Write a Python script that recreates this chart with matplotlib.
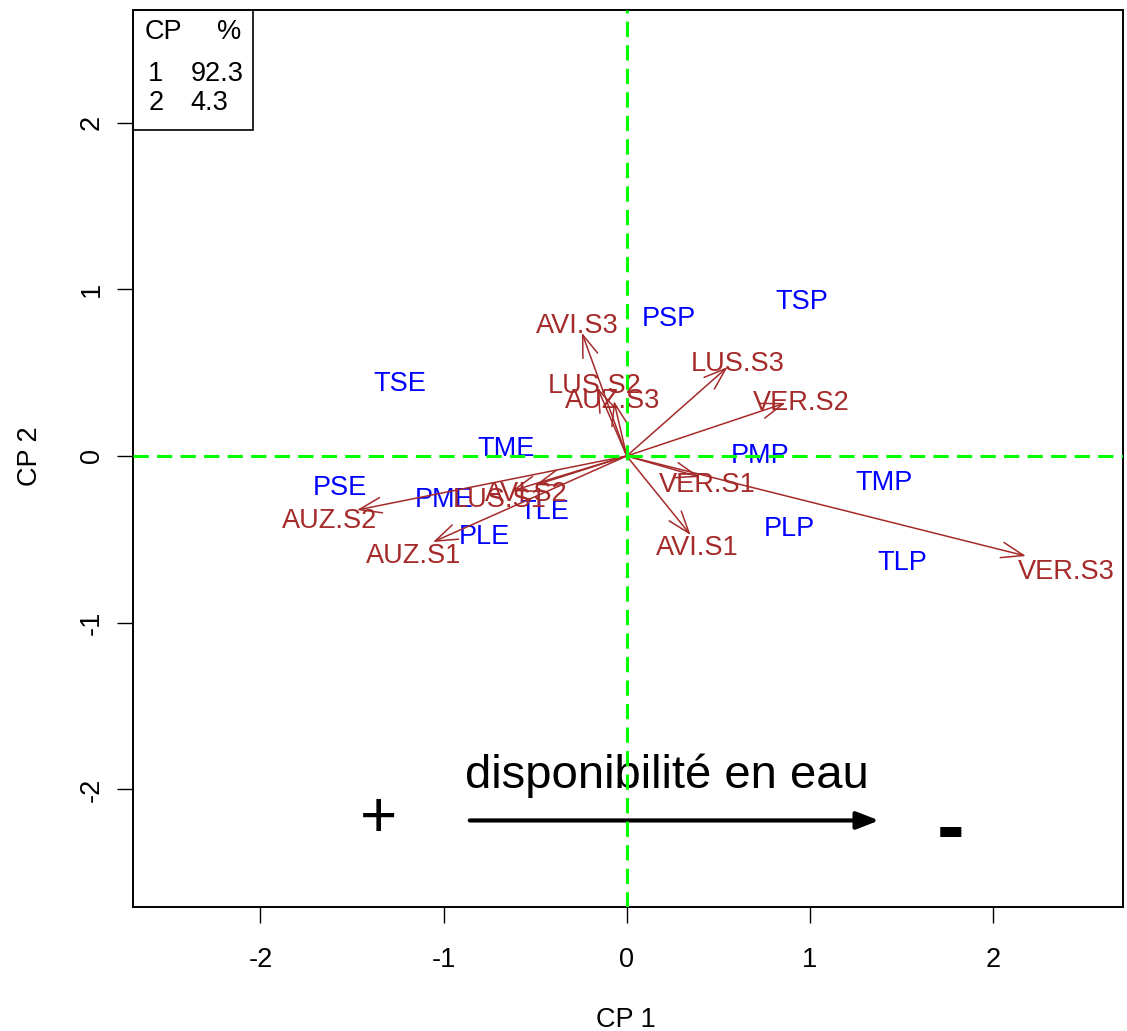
import numpy as np
import matplotlib
matplotlib.use("Agg")
import matplotlib.pyplot as plt
from matplotlib.patches import Rectangle

plt.rcParams['font.family'] = ['Liberation Sans', 'DejaVu Sans']

# site scores (blue labels)
site_names = ["TSP", "PSP", "TSE", "TME", "PMP", "TMP",
              "PSE", "PME", "TLE", "PLE", "PLP", "TLP"]
site_x = [0.958, 0.232, -1.241, -0.658, 0.729, 1.405,
          -1.569, -0.996, -0.450, -0.778, 0.887, 1.503]
site_y = [0.921, 0.819, 0.429, 0.039, -0.003, -0.159,
          -0.189, -0.261, -0.333, -0.483, -0.435, -0.639]

# variable loadings (brown arrows)
var_names = ["AUZ.S1", "AUZ.S2", "AUZ.S3", "AVI.S1", "AVI.S2", "AVI.S3",
             "LUS.S1", "LUS.S2", "LUS.S3", "VER.S1", "VER.S2", "VER.S3"]
var_x = [-1.058, -1.473, -0.070, 0.349, -0.500, -0.245,
         -0.630, -0.160, 0.551, 0.398, 0.867, 2.180]
var_y = [-0.516, -0.324, 0.330, -0.474, -0.175, 0.740,
         -0.210, 0.410, 0.534, -0.126, 0.318, -0.600]

# inertia table
cp_axes = ["1", "2"]
cp_pct = ["92.3", "4.3"]

brown = "#A52A2A"
FS = 19.5

fig = plt.figure(figsize=(11.27, 10.31), dpi=100)
ax = fig.add_axes([133/1127, 1 - 907/1031, 990/1127, 897/1031])
ax.set_xlim(-2.696, 2.71)
ax.set_ylim(-2.705, 2.675)

# sites
for name, x, y in zip(site_names, site_x, site_y):
    ax.text(x, y, name, color="blue", fontsize=FS, ha="center", va="center", zorder=3)

# arrows + labels
for name, x, y in zip(var_names, var_x, var_y):
    ax.annotate("", xy=(x, y), xytext=(0, 0),
                arrowprops=dict(arrowstyle="->,head_length=0.8,head_width=0.28",
                                color=brown, lw=1.1, shrinkA=0, shrinkB=0,
                                mutation_scale=20), zorder=4)
    ax.text(1.1*x, 1.1*y - 0.033, name, color=brown, fontsize=FS,
            ha="center", va="center", zorder=4)

# water availability annotation
ax.text(0.218, -1.99, "disponibilité en eau", fontsize=34, ha="center", va="baseline")
ax.annotate("", xy=(1.378, -2.186), xytext=(-0.857, -2.186),
            arrowprops=dict(arrowstyle="-|>,head_length=0.9,head_width=0.35",
                            color="black", lw=3, shrinkA=0, shrinkB=0,
                            mutation_scale=15))
ax.text(-1.355, -2.186, "+", fontsize=46, ha="center", va="center")
ax.text(1.77, -2.39, "-", fontsize=60, fontweight="bold", ha="center", va="baseline")

# dashed axes
ax.axhline(0, color="#00FF00", lw=2.2, linestyle=(0, (5, 2.7)), zorder=6)
ax.axvline(0, color="#00FF00", lw=2.2, linestyle=(0, (5, 2.7)), zorder=6)

# inertia box
ax.add_patch(Rectangle((0, 0.866), 0.1212, 0.134, transform=ax.transAxes,
                       fill=False, edgecolor="black", lw=1.2, zorder=7))
ax.text(0.031, 0.975, "CP", transform=ax.transAxes, fontsize=FS, ha="center", va="center")
ax.text(0.109, 0.975, "%", transform=ax.transAxes, fontsize=FS, ha="right", va="center")
row_y = [0.929, 0.896]
for k, p, yy in zip(cp_axes, cp_pct, row_y):
    ax.text(0.023, yy, k, transform=ax.transAxes, fontsize=FS, ha="center", va="center")
    ax.text(0.058, yy, p, transform=ax.transAxes, fontsize=FS, ha="left", va="center")

ticks = [-2, -1, 0, 1, 2]
ax.set_xticks(ticks)
ax.set_yticks(ticks)
ax.set_xticklabels([str(t) for t in ticks], fontsize=FS)
ax.set_yticklabels([str(t) for t in ticks], fontsize=FS, rotation=90, va="center")
ax.tick_params(axis="both", length=11.5, width=1.0)
ax.tick_params(axis="x", pad=17)
ax.tick_params(axis="y", pad=9)
for s in ax.spines.values():
    s.set_linewidth(1.4)

fig.text(626/1127, 1 - 1020/1031, "CP 1", fontsize=FS, ha="center", va="center")
fig.text(30/1127, 1 - 456/1031, "CP 2", fontsize=FS, ha="center", va="center", rotation=90)

fig.savefig("out.png", dpi=100)
